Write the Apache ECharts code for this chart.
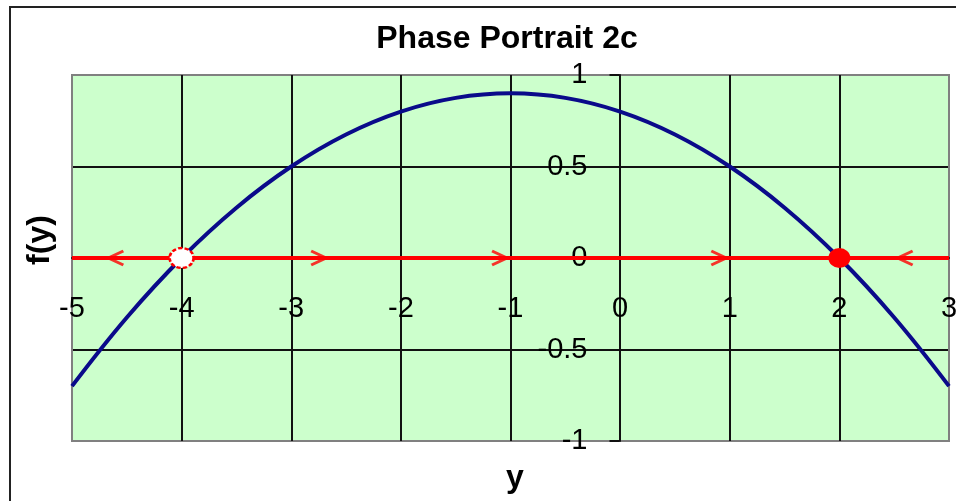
<!DOCTYPE html>
<html>
<head>
<meta charset="utf-8">
<script src="https://cdn.jsdelivr.net/npm/echarts@6/dist/echarts.min.js"></script>
<style>
  html, body { margin: 0; padding: 0; background: #fff; }
  #chart { width: 956px; height: 501px; }
</style>
</head>
<body>
<div id="chart"></div>
<script>
  // values
  const yPoints = [-5, -4.5, -4, -3.5, -3, -2.5, -2, -1.5, -1, -0.5, 0, 0.5, 1, 1.5, 2, 2.5, 3];
  const fPoints = [-0.7, -0.325, 0, 0.275, 0.5, 0.675, 0.8, 0.875, 0.9, 0.875, 0.8, 0.675, 0.5, 0.275, 0, -0.325, -0.7];
  const phaseLine = [[-5, 0], [3, 0]];
  const arrowsLeft = [-4.6, 2.6];
  const arrowsRight = [-2.75, -1.1, 0.9];
  const unstablePoints = [-4];
  const stablePoints = [2];

  const font = '"Liberation Sans", Arial, sans-serif';
  const chart = echarts.init(document.getElementById('chart'));

  const gray = '#808080';
  const dark = '#111111';

  // axes cross at the origin, inside the plot
  const yAxisOffset = -547.5;
  const xAxisOffset = -183;

  chart.setOption({
    backgroundColor: '#ffffff',
    animation: false,
    title: {
      text: 'Phase Portrait 2c',
      left: 502,
      top: 18,
      textAlign: 'center',
      textStyle: { fontFamily: font, fontWeight: 'bold', fontSize: 32, color: '#000' }
    },
    graphic: [
      {
        type: 'rect',
        shape: { x: 10, y: 7, width: 980, height: 520 },
        style: { fill: 'none', stroke: '#222', lineWidth: 2 },
        silent: true
      },
      {
        type: 'text',
        x: 40, y: 240,
        rotation: Math.PI / 2,
        style: {
          text: 'f(y)', fontFamily: font, fontWeight: 'bold', fontSize: 32,
          fill: '#000', align: 'center', verticalAlign: 'middle'
        }
      },
      {
        type: 'text',
        x: 515, y: 478,
        style: {
          text: 'y', fontFamily: font, fontWeight: 'bold', fontSize: 32,
          fill: '#000', align: 'center', verticalAlign: 'middle'
        }
      }
    ],
    grid: {
      left: 72, right: 7, top: 75, bottom: 60,
      containLabel: false,
      outerBoundsMode: 'none',
      show: true,
      backgroundColor: '#ccffcc',
      borderColor: gray,
      borderWidth: 2
    },
    xAxis: {
      type: 'value',
      min: -5, max: 3, interval: 1,
      offset: xAxisOffset,
      axisLine: { onZero: false, lineStyle: { color: dark, width: 2 } },
      axisTick: { show: false },
      axisLabel: { margin: 36, fontFamily: font, fontSize: 29, color: '#000' },
      splitLine: {
        lineStyle: { color: [gray, dark, dark, dark, dark, dark, dark, dark, gray], width: 2 }
      }
    },
    yAxis: {
      type: 'value',
      min: -1, max: 1, interval: 0.5,
      offset: yAxisOffset,
      axisLine: { show: true, onZero: false, lineStyle: { color: dark, width: 2 } },
      axisTick: { show: true, length: 10, lineStyle: { color: dark, width: 2 } },
      axisLabel: { margin: 32, fontFamily: font, fontSize: 29, color: '#000' },
      splitLine: {
        lineStyle: { color: [gray, dark, dark, dark, gray], width: 2 }
      }
    },
    series: [
      {
        type: 'line',
        data: phaseLine,
        symbol: 'none',
        lineStyle: { color: '#ff0000', width: 4 },
        z: 3
      },
      {
        type: 'line',
        data: yPoints.map((y, i) => [y, fPoints[i]]),
        smooth: 0.4,
        symbol: 'none',
        lineStyle: { color: '#0a0a8a', width: 4 },
        z: 4
      },
      {
        type: 'scatter',
        data: arrowsRight.map(x => [x, 0]),
        symbol: 'path://M0,0 L14,7 L0,14',
        symbolSize: [15, 14],
        itemStyle: { color: 'transparent', borderColor: '#ff0000', borderWidth: 3 },
        z: 5
      },
      {
        type: 'scatter',
        data: arrowsLeft.map(x => [x, 0]),
        symbol: 'path://M14,0 L0,7 L14,14',
        symbolSize: [15, 14],
        itemStyle: { color: 'transparent', borderColor: '#ff0000', borderWidth: 3 },
        z: 5
      },
      {
        type: 'scatter',
        data: unstablePoints.map(x => [x, 0]),
        symbol: 'circle',
        symbolSize: [24, 20],
        itemStyle: { color: '#ffffff', opacity: 1, borderColor: '#ff0000', borderWidth: 2.5, borderType: [4, 2] },
        z: 6
      },
      {
        type: 'scatter',
        data: stablePoints.map(x => [x, 0]),
        symbol: 'circle',
        symbolSize: [22, 20],
        itemStyle: { color: '#ff0000', opacity: 1 },
        z: 6
      }
    ]
  });
</script>
</body>
</html>
